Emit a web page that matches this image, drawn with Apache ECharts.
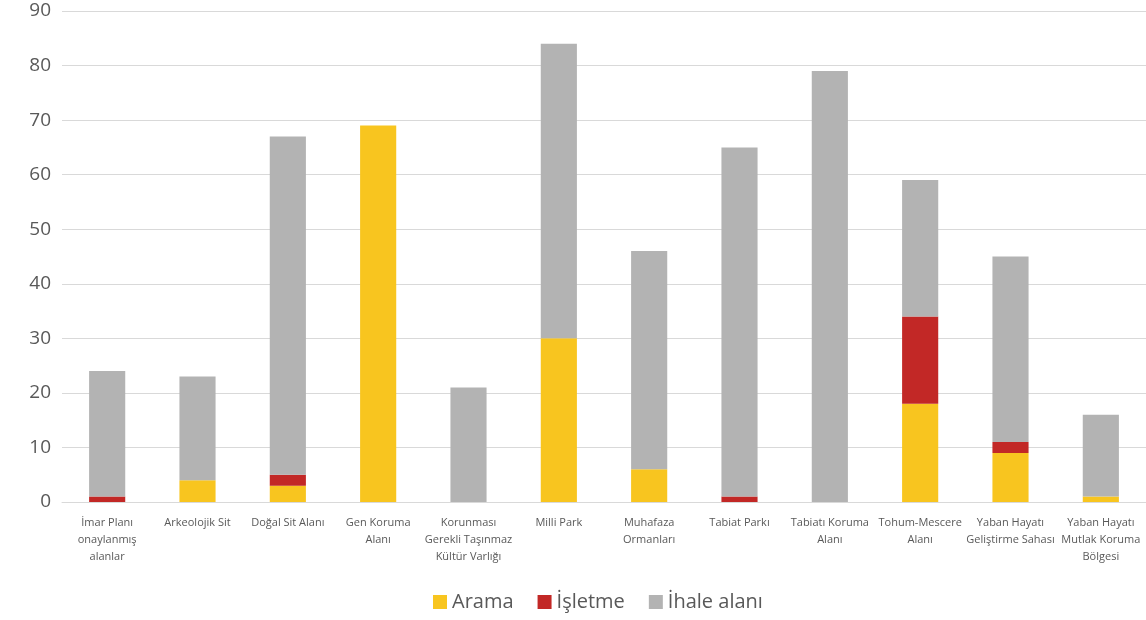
<!DOCTYPE html>
<html>
<head>
<meta charset="utf-8">
<script src="https://cdn.jsdelivr.net/npm/echarts@6/dist/echarts.min.js"></script>
<style>html,body{margin:0;padding:0;background:#fff}#c{width:1146px;height:620px}</style>
</head>
<body>
<div id="c"></div>
<script>
var categories = [
  "İmar Planı\nonaylanmış\nalanlar",
  "Arkeolojik Sit",
  "Doğal Sit Alanı",
  "Gen Koruma\nAlanı",
  "Korunması\nGerekli Taşınmaz\nKültür Varlığı",
  "Milli Park",
  "Muhafaza\nOrmanları",
  "Tabiat Parkı",
  "Tabiatı Koruma\nAlanı",
  "Tohum-Mescere\nAlanı",
  "Yaban Hayatı\nGeliştirme Sahası",
  "Yaban Hayatı\nMutlak Koruma\nBölgesi"
];
var arama    = [0, 4, 3, 69, 0, 30, 6, 0, 0, 18, 9, 1];
var isletme  = [1, 0, 2, 0, 0, 0, 0, 1, 0, 16, 2, 0];
var ihale    = [23, 19, 62, 0, 21, 54, 40, 64, 79, 25, 34, 15];
var seriesNames = ["Arama", "İşletme", "İhale alanı"];

var chart = echarts.init(document.getElementById('c'));
var font = "'Open Sans', 'Noto Sans', sans-serif";
function mk(name, data, color) {
  return {
    name: name, type: 'bar', stack: 'total', barWidth: '40%',
    data: data.map(function (v) { return v === 0 ? '-' : v; }),
    itemStyle: { color: color },
    emphasis: { disabled: true }
  };
}
chart.setOption({
  animation: false,
  textStyle: { fontFamily: font },
  grid: { left: 62, right: -5, top: 11, bottom: 118 },
  legend: {
    bottom: 3, left: 428, itemWidth: 14, itemHeight: 14, itemGap: 24,
    icon: 'rect',
    textStyle: { fontSize: 20, color: '#595959', fontFamily: font },
    data: seriesNames
  },
  xAxis: {
    type: 'category', data: categories,
    axisLine: { lineStyle: { color: '#d9d9d9' } },
    axisTick: { show: false },
    axisLabel: { interval: 0, fontSize: 11, color: '#595959', lineHeight: 17, margin: 12, fontFamily: font }
  },
  yAxis: {
    type: 'value', min: 0, max: 90, interval: 10,
    axisLine: { show: false }, axisTick: { show: false },
    axisLabel: { fontSize: 19, color: '#595959', margin: 11, fontFamily: font },
    splitLine: { lineStyle: { color: '#d9d9d9' } }
  },
  series: [
    mk(seriesNames[0], arama, '#F8C51F'),
    mk(seriesNames[1], isletme, '#C22826'),
    mk(seriesNames[2], ihale, '#B3B3B3')
  ]
});
</script>
</body>
</html>
